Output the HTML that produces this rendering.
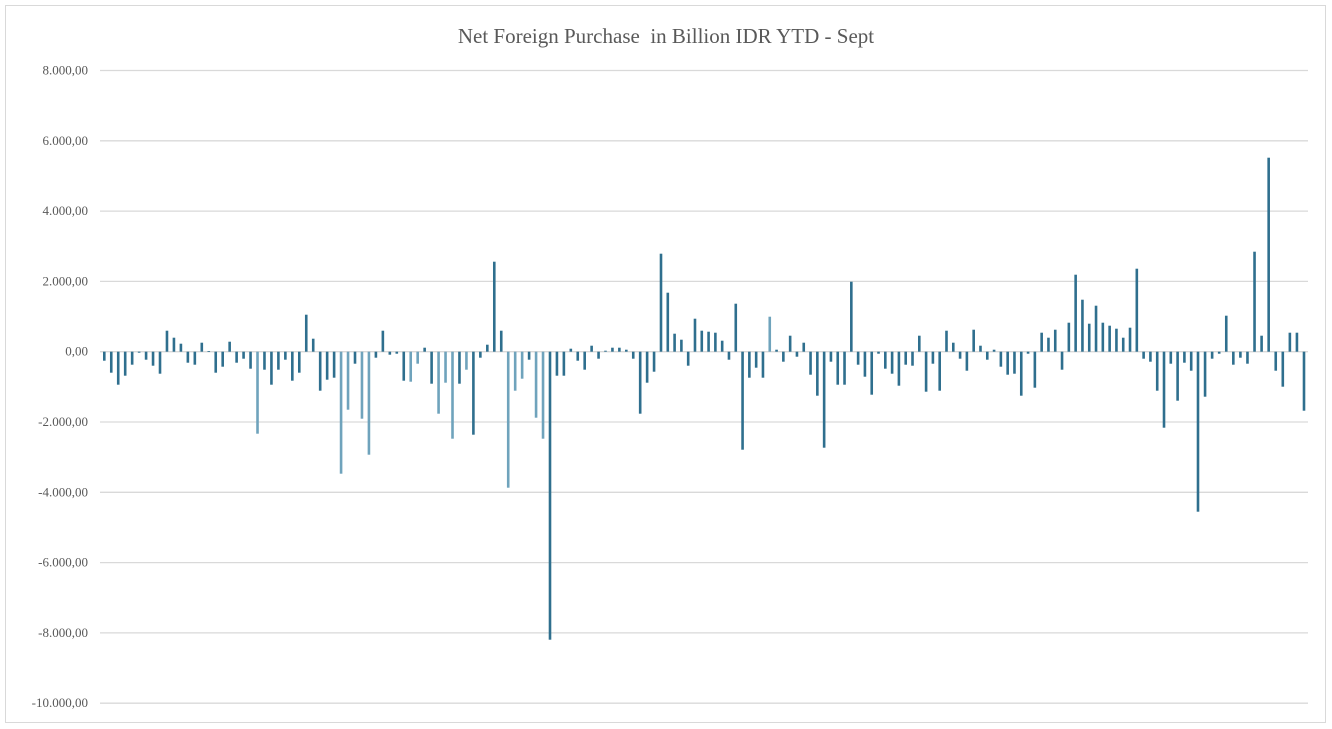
<!DOCTYPE html>
<html><head><meta charset="utf-8"><style>
html,body{margin:0;padding:0;background:#fff;}
svg{display:block;}
</style></head><body>
<svg id="c" width="1332" height="729" xmlns="http://www.w3.org/2000/svg">
<rect x="5.5" y="5.5" width="1320" height="717" fill="#fff" stroke="#d9d9d9"/>
<text x="666" y="43" text-anchor="middle" font-family="Liberation Serif, serif" font-size="21" fill="#595959" xml:space="preserve">Net Foreign Purchase  in Billion IDR YTD - Sept</text>
<g id="grid" stroke="#d9d9d9" stroke-width="1.3"></g>
<g id="lab" font-family="Liberation Serif, serif" font-size="13" fill="#595959" text-anchor="end"></g>
<g id="bars"></g>
</svg>
<script>
var ns="http://www.w3.org/2000/svg";
var g=document.getElementById("grid"),lab=document.getElementById("lab"),bars=document.getElementById("bars");
var y0=351.7, per=35.15;
var labels=["8.000,00","6.000,00","4.000,00","2.000,00","0,00","-2.000,00","-4.000,00","-6.000,00","-8.000,00","-10.000,00"];
for(var i=0;i<10;i++){
 var v=8-2*i, y=y0-v*per;
 var l=document.createElementNS(ns,"line");
 l.setAttribute("x1",100);l.setAttribute("x2",1308);l.setAttribute("y1",y);l.setAttribute("y2",y);
 g.appendChild(l);
 var t=document.createElementNS(ns,"text");
 t.setAttribute("x",88);t.setAttribute("y",y+4);t.textContent=labels[i];lab.appendChild(t);
}
var h=[-9,-21,-33,-24,-13,-1,-8,-14,-22,21,14,8,-11,-13,9,0.5,-21,-15,10,-11,-7,-17,-82,-18,-33,-18,-8,-29,-21,37,13,-39,-28,-26,-122,-58,-12,-67,-103,-6,21,-3,-2,-29,
-30,-12,4,-32,-62,-31,-87,-32,-18,-83,-6,7,90,21,-136,-39,-27,-8,-66,-87,-288,-24,-24,3,-9,-18,6,-7,1,4,4,2,-7,-62,-31,-20,98,59,18,12,-14,33,21,20,
19,11,-8,48,-98,-26,-16,-26,35,2,-10,16,-5,9,-23,-44,-96,-10,-33,-33,70,-13,-25,-43,-2,-17,-22,-34,-13,-14,16,-40,-12,-39,21,9,-7,-19,22,6,-8,2,-15,-23,
-22,-44,-2,-36,19,14,22,-18,29,77,52,28,46,29,26,23,14,24,83,-7,-10,-39,-76,-12,-49,-11,-19,-160,-45,-7,-2,36,-13,-6,-12,100,16,194,-19,-35,19,19,-59];
var n=h.length;
var anc=[[0,104.3],[64,550],[80,661],[159,1198],[n-1,1304]];
function px(i){for(var k=0;k<anc.length-1;k++){var a=anc[k],b=anc[k+1];if(i<=b[0])return a[1]+(i-a[0])*(b[1]-a[1])/(b[0]-a[0]);}return anc[anc.length-1][1];}
var light={22:1,34:1,35:1,37:1,38:1,44:1,45:1,48:1,49:1,50:1,52:1,58:1,59:1,60:1,62:1,63:1,96:1};
for(var i=0;i<n;i++){
 var r=document.createElementNS(ns,"rect");
 var v=h[i], x=px(i);
 r.setAttribute("x",x-1.3);r.setAttribute("width",2.6);
 r.setAttribute("y",v>0?y0-v:y0);r.setAttribute("height",Math.max(Math.abs(v),0.8));
 r.setAttribute("fill",light[i]?"#6fa3bc":"#2f6f8e");
 bars.appendChild(r);
}
</script>
</body></html>
